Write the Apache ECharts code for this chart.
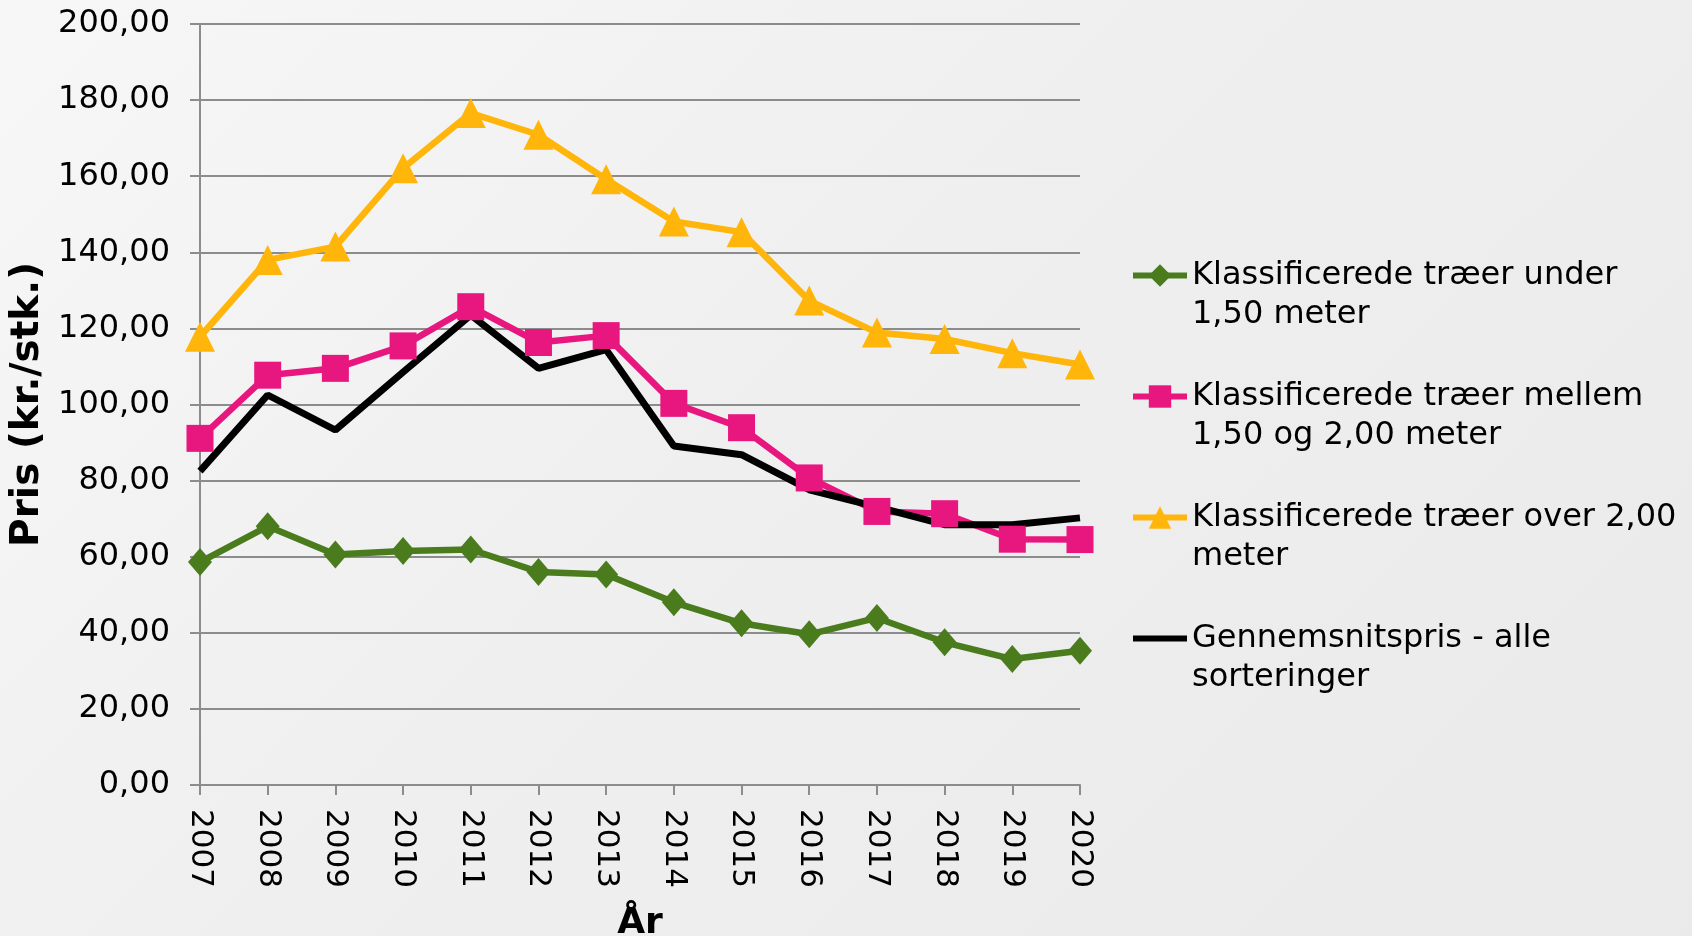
<!DOCTYPE html>
<html>
<head>
<meta charset="utf-8">
<script src="https://cdn.jsdelivr.net/npm/echarts@6/dist/echarts.min.js"></script>
<style>
  html, body { margin: 0; padding: 0; }
  #chart {
    width: 1692px;
    height: 936px;
    background: linear-gradient(135deg, #f7f7f7 0%, #efefef 45%, #eaeaea 100%);
  }
</style>
</head>
<body>
<div id="chart"></div>
<script>
// år på x-aksen
var years = ['2007', '2008', '2009', '2010', '2011', '2012', '2013', '2014', '2015', '2016', '2017', '2018', '2019', '2020'];
var yTicks = [0, 20, 40, 60, 80, 100, 120, 140, 160, 180, 200];

// priser (kr./stk.)
var underData = [58.6, 68.0, 60.6, 61.5, 61.9, 56.0, 55.3, 48.0, 42.5, 39.6, 43.9, 37.5, 33.1, 35.3];
var mellemData = [91.1, 107.7, 109.5, 115.4, 125.7, 116.3, 118.1, 100.3, 93.9, 80.7, 71.9, 71.3, 64.6, 64.5];
var overData = [117.8, 138.0, 141.5, 162.1, 176.6, 170.9, 159.2, 148.1, 145.3, 127.3, 118.9, 117.2, 113.5, 110.5];
var snitData = [82.5, 102.5, 93.3, 108.5, 123.5, 109.5, 114.4, 89.1, 86.8, 77.6, 73.1, 68.4, 68.4, 70.2];

var names = [
  'Klassificerede træer under\n1,50 meter',
  'Klassificerede træer mellem\n1,50 og 2,00 meter',
  'Klassificerede træer over 2,00\nmeter',
  'Gennemsnitspris - alle\nsorteringer'
];

var font = 'DejaVu Sans';
var gridColor = '#8c8c8c';

var chart = echarts.init(document.getElementById('chart'));

chart.setOption({
  animation: false,
  textStyle: { fontFamily: font },
  grid: { left: 200, right: 612, top: 24, bottom: 151, outerBoundsMode: 'none' },
  legend: {
    orient: 'vertical',
    left: 1130,
    top: 217,
    padding: 0,
    itemWidth: 54,
    itemHeight: 28,
    itemGap: 4,
    lineStyle: { width: 6 },
    // tom første linje, så ikonet står ud for første tekstlinje
    formatter: function (name) { return '\n' + name; },
    textStyle: {
      fontFamily: font,
      fontSize: 32,
      color: '#000',
      lineHeight: 39
    },
    data: [
      names[0],
      names[1],
      names[2],
      { name: names[3], itemStyle: { opacity: 0 } }
    ]
  },
  xAxis: {
    type: 'category',
    data: years,
    boundaryGap: false,
    name: 'År',
    nameLocation: 'middle',
    nameGap: 121,
    nameTextStyle: { fontFamily: font, fontSize: 36, fontWeight: 'bold', color: '#000' },
    axisLine: { lineStyle: { color: gridColor, width: 2 } },
    axisTick: { show: true, length: 10, lineStyle: { color: gridColor, width: 2 } },
    axisLabel: { rotate: -90, margin: 24, fontSize: 31, color: '#000', fontFamily: font }
  },
  yAxis: {
    type: 'value',
    min: yTicks[0],
    max: yTicks[yTicks.length - 1],
    interval: 20,
    name: 'Pris (kr./stk.)',
    nameLocation: 'middle',
    nameGap: 145,
    nameTextStyle: { fontFamily: font, fontSize: 39, fontWeight: 'bold', color: '#000' },
    axisLine: { show: true, lineStyle: { color: gridColor, width: 2 } },
    axisTick: { show: true, length: 10, lineStyle: { color: gridColor, width: 2 } },
    splitLine: { lineStyle: { color: gridColor, width: 2 } },
    axisLabel: {
      margin: 30,
      fontSize: 32,
      color: '#000',
      fontFamily: font,
      formatter: function (v) { return v.toFixed(2).replace('.', ','); }
    }
  },
  series: [
    {
      name: names[0],
      type: 'line',
      data: underData,
      symbol: 'diamond',
      symbolSize: [24, 28],
      lineStyle: { color: '#4a7c1e', width: 6.5 },
      itemStyle: { color: '#4a7c1e' }
    },
    {
      name: names[1],
      type: 'line',
      data: mellemData,
      symbol: 'rect',
      symbolSize: 27,
      lineStyle: { color: '#e8177f', width: 6.5 },
      itemStyle: { color: '#e8177f' }
    },
    {
      name: names[2],
      type: 'line',
      data: overData,
      symbol: 'triangle',
      symbolSize: 30,
      lineStyle: { color: '#ffb50a', width: 6.5 },
      itemStyle: { color: '#ffb50a' }
    },
    {
      name: names[3],
      type: 'line',
      data: snitData,
      symbol: 'none',
      lineStyle: { color: '#000', width: 7 },
      itemStyle: { color: '#000' }
    }
  ]
});
</script>
</body>
</html>
